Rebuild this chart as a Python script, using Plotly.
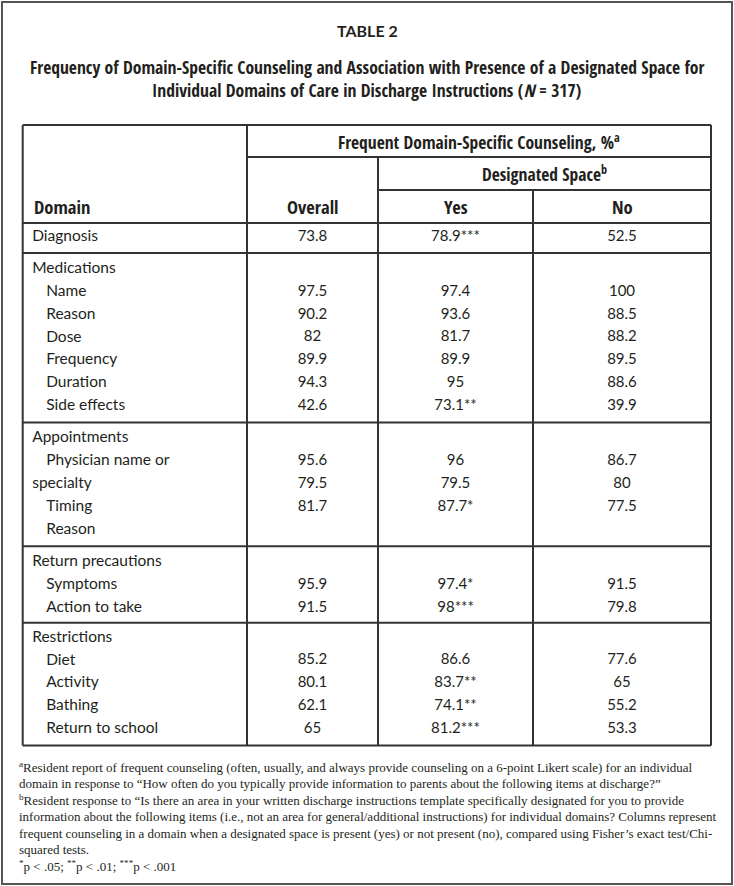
import plotly.graph_objects as go

# table rows
labels = ["Diagnosis", "Medications", "Name", "Reason", "Dose", "Frequency", "Duration", "Side effects",
          "Appointments", "Physician name or", "specialty", "Timing", "Reason",
          "Return precautions", "Symptoms", "Action to take",
          "Restrictions", "Diet", "Activity", "Bathing", "Return to school"]
indent = [0, 0, 1, 1, 1, 1, 1, 1, 0, 1, 0, 1, 1, 0, 1, 1, 0, 1, 1, 1, 1]
group = [0, 1, 1, 1, 1, 1, 1, 1, 2, 2, 2, 2, 2, 3, 3, 3, 4, 4, 4, 4, 4]

overall = [73.8, None, 97.5, 90.2, 82, 89.9, 94.3, 42.6, None, 95.6, 79.5, 81.7, None,
           None, 95.9, 91.5, None, 85.2, 80.1, 62.1, 65]
yes = [78.9, None, 97.4, 93.6, 81.7, 89.9, 95, 73.1, None, 96, 79.5, 87.7, None,
       None, 97.4, 98, None, 86.6, 83.7, 74.1, 81.2]
yes_sig = ["***", "", "", "", "", "", "", "**", "", "", "", "*", "",
           "", "*", "***", "", "", "**", "**", "***"]
no = [52.5, None, 100, 88.5, 88.2, 89.5, 88.6, 39.9, None, 86.7, 80, 77.5, None,
      None, 91.5, 79.8, None, 77.6, 65, 55.2, 53.3]

footnotes = [
    "<sup>a</sup>Resident report of frequent counseling (often, usually, and always provide counseling on a 6-point Likert scale) for an individual",
    "domain in response to \u201cHow often do you typically provide information to parents about the following items at discharge?\u201d",
    "<sup>b</sup>Resident response to \u201cIs there an area in your written discharge instructions template specifically designated for you to provide",
    "information about the following items (i.e., not an area for general/additional instructions) for individual domains? Columns represent",
    "frequent counseling in a domain when a designated space is present (yes) or not present (no), compared using Fisher\u2019s exact test/Chi-",
    "squared tests.",
    "<sup>*</sup>p < .05; <sup>**</sup>p < .01; <sup>***</sup>p < .001",
]

INK = "#231f20"
LINE = "#333333"
SANS = "Lato, 'Noto Sans', sans-serif"
COND = "'Open Sans Condensed', 'Roboto Condensed', sans-serif"
SERIF = "'Liberation Serif', 'DejaVu Serif', serif"

# grid geometry (pixel units)
W, H = 734, 886
L, R = 22.7, 711
C1, C2, C3 = 247, 378, 533
TOP, H1, H2, HB = 125, 157, 190, 223
Y0, PITCH = 237, 22.9
GAPS = [0, 9.1, 9.3, 9.0, 7.0]  # extra space before each group

row_y = []
y = Y0
for i, g in enumerate(group):
    if i > 0:
        y += PITCH + (GAPS[g] if g != group[i - 1] else 0)
    row_y.append(y)
seps = [(row_y[i - 1] + row_y[i]) / 2 for i in range(1, len(group)) if group[i] != group[i - 1]]
BOT = row_y[-1] + 16

cx_over = (C1 + C2) / 2
cx_yes = (C2 + C3) / 2
cx_no = (C3 + R) / 2


def fmt(v, s=""):
    return f"{v:g}" + s


fig = go.Figure()

fig.add_trace(go.Scatter(
    x=[L + 9.5 + 14 * k for k in indent], y=row_y, text=labels,
    mode="text", textposition="middle right",
    textfont=dict(family=SANS, size=15.5, color=INK), hoverinfo="skip",
))
for cx, vals, sig in [(cx_over, overall, [""] * len(overall)), (cx_yes, yes, yes_sig),
                      (cx_no, no, [""] * len(no))]:
    keep = [i for i, v in enumerate(vals) if v is not None]
    fig.add_trace(go.Scatter(
        x=[cx] * len(keep), y=[row_y[i] for i in keep],
        text=[fmt(vals[i], sig[i]) for i in keep],
        mode="text", textposition="middle center",
        textfont=dict(family=SANS, size=15, color=INK), hoverinfo="skip",
    ))

shapes = [dict(type="rect", x0=2, x1=732, y0=2, y1=884, line=dict(color="#555555", width=2))]
for y in [TOP, HB] + seps + [BOT]:
    shapes.append(dict(type="line", x0=L, x1=R, y0=y, y1=y, line=dict(color=LINE, width=2)))
shapes.append(dict(type="line", x0=C1, x1=R, y0=H1, y1=H1, line=dict(color=LINE, width=2)))
shapes.append(dict(type="line", x0=C2, x1=R, y0=H2, y1=H2, line=dict(color=LINE, width=2)))
for x, y0 in [(L, TOP), (R, TOP), (C1, TOP), (C2, H1), (C3, H2)]:
    shapes.append(dict(type="line", x0=x, x1=x, y0=y0, y1=BOT, line=dict(color=LINE, width=2)))

ann = []


def txt(x, y, s, size, family, anchor="center", bold=False):
    ann.append(dict(x=x, y=y, xref="x", yref="y", text=f"<b>{s}</b>" if bold else s,
                    showarrow=False, xanchor=anchor, yanchor="middle", align=anchor,
                    font=dict(family=family, size=size, color=INK)))


txt(W / 2, 30, "TABLE 2", 16, SANS, bold=True)
txt(W / 2, 67, "Frequency of Domain-Specific Counseling and Association with Presence of a Designated Space for", 17.6, COND, bold=True)
txt(W / 2, 90, "Individual Domains of Care in Discharge Instructions (<i>N</i> = 317)", 17.6, COND, bold=True)

txt((C1 + R) / 2, (TOP + H1) / 2, "Frequent Domain-Specific Counseling, %<sup>a</sup>", 17.5, COND, bold=True)
txt((C2 + R) / 2, (H1 + H2) / 2, "Designated Space<sup>b</sup>", 17.5, COND, bold=True)
txt(L + 9, (H2 + HB) / 2, "Domain", 18.5, COND, anchor="left", bold=True)
txt(cx_over, (H2 + HB) / 2, "Overall", 18.5, COND, bold=True)
txt(cx_yes, (H2 + HB) / 2, "Yes", 18.5, COND, bold=True)
txt(cx_no, (H2 + HB) / 2, "No", 18.5, COND, bold=True)

for i, line in enumerate(footnotes):
    txt(17, 767 + 16.5 * i, line, 13, SERIF, anchor="left")

fig.update_layout(
    width=W, height=H, margin=dict(l=0, r=0, t=0, b=0),
    paper_bgcolor="white", plot_bgcolor="white", showlegend=False,
    shapes=shapes, annotations=ann,
    xaxis=dict(range=[0, W], visible=False, fixedrange=True),
    yaxis=dict(range=[H, 0], visible=False, fixedrange=True),
)

fig.write_html("out.html", config={"displayModeBar": False},
               post_script="document.body.style.margin='0'")
